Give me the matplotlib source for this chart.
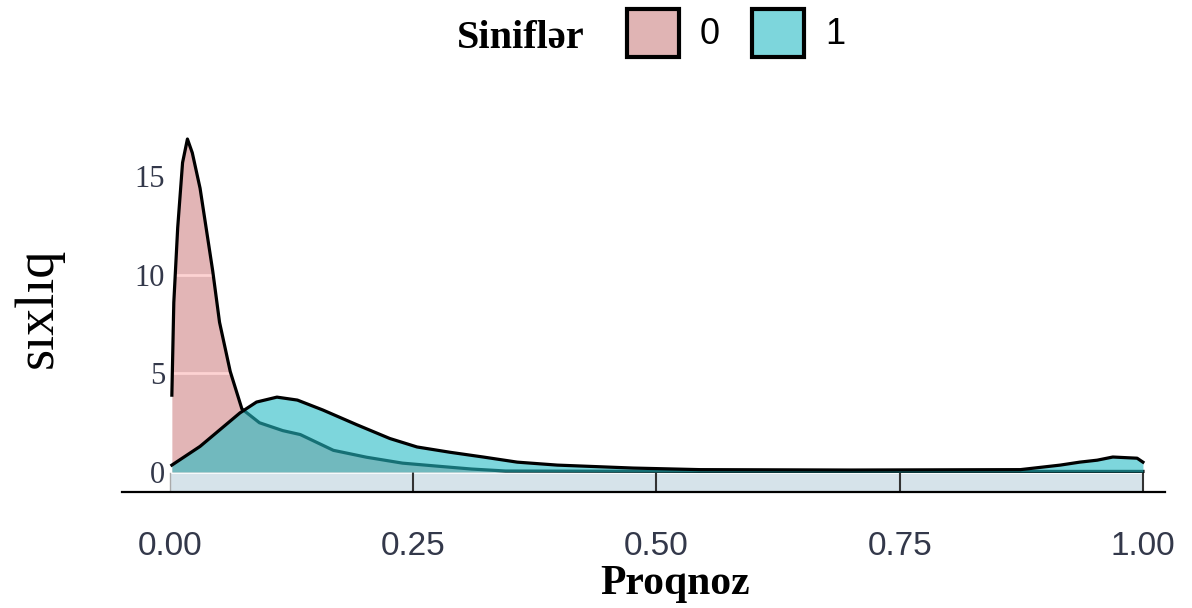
import matplotlib.pyplot as plt
from matplotlib.patches import Rectangle

# density curves
x0 = [0.002, 0.004, 0.008, 0.013, 0.018, 0.023, 0.031, 0.044, 0.051, 0.062, 0.074,
      0.092, 0.116, 0.134, 0.168, 0.202, 0.239, 0.274, 0.31, 0.345, 0.545, 0.853, 1.0]
y0 = [3.9, 8.6, 12.4, 15.7, 16.9, 16.2, 14.4, 10.2, 7.6, 5.1, 3.2,
      2.5, 2.1, 1.9, 1.1, 0.75, 0.45, 0.3, 0.15, 0.05, 0.03, 0.03, 0.03]

x1 = [0.002, 0.031, 0.072, 0.089, 0.110, 0.131, 0.157, 0.192, 0.226, 0.254, 0.288,
      0.322, 0.357, 0.398, 0.476, 0.545, 0.70, 0.874, 0.915, 0.935, 0.953, 0.969,
      0.994, 1.0]
y1 = [0.35, 1.3, 3.0, 3.55, 3.8, 3.65, 3.15, 2.4, 1.7, 1.27, 1.0,
      0.76, 0.5, 0.35, 0.2, 0.12, 0.1, 0.12, 0.35, 0.5, 0.6, 0.76,
      0.7, 0.5]

classes = ["0", "1"]
xticks = [0.0, 0.25, 0.5, 0.75, 1.0]
xtick_labels = ["0.00", "0.25", "0.50", "0.75", "1.00"]
yticks = [0, 5, 10, 15]

pink = "#e2b5b6"
teal = (38 / 255, 188 / 255, 197 / 255)

fig = plt.figure(figsize=(11.92, 6.08), dpi=100)
ax = fig.add_axes([0.1023, 0.1908, 0.875, 0.6447])

# class 0
area0 = ax.fill_between(x0, 0, y0, color=pink, lw=0, zorder=2)
for g in [5, 10]:
    gl, = ax.plot([0, 0.1], [g, g], color="#fdd3d3", lw=2, zorder=2.5)
    gl.set_clip_path(area0.get_paths()[0], transform=ax.transData)
ax.plot(x0, y0, color="black", lw=2.3, zorder=3)

# class 1 on top, semi transparent
ax.fill_between(x1, 0, y1, color=teal, alpha=0.6, lw=0, zorder=4)
ax.plot(x1, y1, color="black", lw=2.3, zorder=5)

# light band under the curves
ax.add_patch(Rectangle((0, -0.97), 1, 0.92, facecolor="#d6e3ea",
                       edgecolor="none", zorder=1))
ax.plot([0, 1], [-0.05, -0.05], color="white", lw=1.2, zorder=1.5)
for xv in [0.25, 0.5, 0.75, 1.0]:
    ax.plot([xv, xv], [-0.97, -0.05], color="#333333", lw=1.5, zorder=1.6)
ax.plot([0, 0], [-0.97, -0.05], color="#aaaaaa", lw=1, zorder=1.6)

ax.set_xlim(-0.0493, 1.0226)
ax.set_ylim(-1.015, 18.88)

for s in ["top", "right", "left"]:
    ax.spines[s].set_visible(False)
ax.spines["bottom"].set_linewidth(1.6)

ax.set_xticks(xticks)
ax.set_xticklabels(xtick_labels, family="Liberation Sans", fontsize=24, color="#33384a")
ax.set_yticks(yticks)
ax.set_yticklabels([str(v) for v in yticks], family="Liberation Serif", fontsize=22,
                   color="#33384a")
ax.tick_params(axis="x", length=0, pad=28)
ax.tick_params(axis="y", length=0, pad=-31)

fig.text(675 / 1192, 0.04, "Proqnoz", ha="center", va="center", family="Liberation Serif",
         fontsize=30, fontweight="bold")
fig.text(38 / 1192, 1 - 308 / 608, "sıxlıq", rotation=90, ha="center", va="center",
         family="Liberation Serif", fontsize=39)

# legend on top
fig.text(521 / 1192, 1 - 38 / 608, "Siniflər", ha="center", va="center",
         family="Liberation Serif", fontsize=29, fontweight="bold")
for lab, col, bx in zip(classes, ["#e0b4b4", "#7dd6dc"], [627, 752]):
    fig.add_artist(Rectangle((bx / 1192, 1 - 57 / 608), 52 / 1192, 48 / 608,
                             transform=fig.transFigure, facecolor=col,
                             edgecolor="black", lw=3))
    fig.text((bx + 83) / 1192, 1 - 35 / 608, lab, ha="center", va="center",
             family="Liberation Sans", fontsize=26)

fig.savefig("out.png", dpi=100)
